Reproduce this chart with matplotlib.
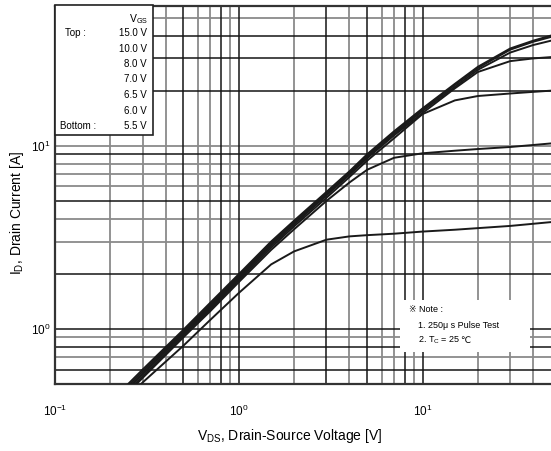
import matplotlib
matplotlib.use("Agg")
import matplotlib.pyplot as plt
from matplotlib.patches import Rectangle

plt.rcParams['font.family'] = ['Liberation Sans', 'DejaVu Sans', 'Noto Sans CJK JP']
plt.rcParams['mathtext.fontset'] = 'custom'
plt.rcParams['mathtext.rm'] = 'Liberation Sans'
plt.rcParams['mathtext.default'] = 'regular'

# Drain-source voltage sample points [V]
vds = [0.2, 0.3, 0.5, 0.7, 1.0, 1.5, 2.0, 3.0, 4.0, 5.0, 7.0, 10, 15, 20, 30, 40, 50]

# Drain current [A] for each gate voltage
id_15v0 = [0.40, 0.60, 0.99, 1.39, 1.99, 3.00, 3.90, 5.60, 7.25, 9.00, 12.0, 16.0, 21.8, 27.0, 34.0, 37.5, 40.0]
id_10v0 = [0.39, 0.585, 0.97, 1.36, 1.95, 2.95, 3.85, 5.50, 7.15, 8.85, 11.8, 15.8, 21.5, 26.6, 33.5, 37.0, 39.3]
id_8v0 = [0.38, 0.57, 0.95, 1.33, 1.91, 2.90, 3.78, 5.42, 7.05, 8.70, 11.6, 15.5, 21.0, 26.0, 32.3, 35.5, 37.5]
id_7v0 = [0.38, 0.565, 0.94, 1.31, 1.88, 2.85, 3.72, 5.35, 6.95, 8.55, 11.4, 15.1, 20.6, 25.3, 29.0, 30.0, 30.5]
id_6v5 = [0.37, 0.55, 0.92, 1.28, 1.84, 2.78, 3.63, 5.20, 6.75, 8.30, 11.0, 14.9, 17.7, 18.7, 19.3, 19.7, 20.0]
id_6v0 = [0.36, 0.54, 0.90, 1.25, 1.80, 2.70, 3.50, 5.00, 6.30, 7.40, 8.60, 9.10, 9.40, 9.60, 9.85, 10.1, 10.3]
id_5v5 = [0.34, 0.51, 0.81, 1.12, 1.57, 2.25, 2.65, 3.07, 3.20, 3.25, 3.31, 3.40, 3.48, 3.55, 3.65, 3.75, 3.83]

curves = [id_15v0, id_10v0, id_8v0, id_7v0, id_6v5, id_6v0, id_5v5]
vgs_labels = ["15.0 V", "10.0 V", "8.0 V", "7.0 V", "6.5 V", "6.0 V", "5.5 V"]

# Grid values, split into darker and lighter lines
x_dark = [0.5, 0.8, 1, 3, 5, 8, 10]
x_light = [0.2, 0.3, 0.4, 0.6, 0.7, 0.9, 2, 4, 6, 7, 9, 20, 30, 40]
y_dark = [0.6, 0.8, 1, 2, 5, 9, 20, 30, 40]
y_light = [0.7, 0.9, 3, 4, 6, 7, 8, 10, 50]

W, H = 551, 451
fig = plt.figure(figsize=(W / 100, H / 100), dpi=100)


def fx(x):
    return x / W


def fy(y):
    return 1 - y / H


ax = fig.add_axes([fx(55), fy(384), 1 - fx(55), fy(6) - fy(384)])
ax.set_xscale('log')
ax.set_yscale('log')
ax.set_xlim(0.1, 50)
ax.set_ylim(0.5, 58)

for v in x_light:
    ax.axvline(v, color='#8a8a8a', lw=1.3, zorder=1)
for v in x_dark:
    ax.axvline(v, color='#151515', lw=1.1, zorder=1.2)
for v in y_light:
    ax.axhline(v, color='#8a8a8a', lw=1.3, zorder=1)
for v in y_dark:
    ax.axhline(v, color='#151515', lw=1.1, zorder=1.2)

for cur in curves:
    ax.plot(vds, cur, color='#1a1a1a', lw=1.4, zorder=3)

ax.set_xticks([0.1, 1, 10])
ax.set_yticks([1, 10])
ax.minorticks_off()
ax.tick_params(length=0, labelsize=8.5)
ax.tick_params(axis='x', pad=14)
ax.tick_params(axis='y', pad=3)
for s in ['left', 'bottom', 'top']:
    ax.spines[s].set_linewidth(1.6)
    ax.spines[s].set_color('#333333')
ax.spines['right'].set_visible(False)

fig.text(fx(290), fy(436), "V$_{DS}$, Drain-Source Voltage [V]", ha='center', va='center', fontsize=10)
fig.text(fx(17), fy(213), "I$_{D}$, Drain Current [A]", ha='center', va='center', fontsize=10, rotation=90)

# Gate-voltage legend box
fig.patches.append(Rectangle((fx(55), fy(135)), fx(153) - fx(55), fy(5) - fy(135),
                             transform=fig.transFigure, facecolor='white', edgecolor='#222222',
                             lw=1.2, zorder=5))
fig.text(fx(129), fy(19), "V$_{GS}$", ha='left', va='center', fontsize=7.5, zorder=6)
fig.text(fx(65), fy(33), "Top :", ha='left', va='center', fontsize=7, zorder=6)
fig.text(fx(60), fy(126), "Bottom :", ha='left', va='center', fontsize=7, zorder=6)
for i, lab in enumerate(vgs_labels):
    fig.text(fx(147), fy(33 + i * 15.5), lab, ha='right', va='center', fontsize=7, zorder=6)

# Test-condition note
fig.patches.append(Rectangle((fx(400), fy(352)), fx(530) - fx(400), fy(300) - fy(352),
                             transform=fig.transFigure, facecolor='white', edgecolor='none', zorder=5))
fig.text(fx(409), fy(310), "※ Note :", ha='left', va='center', fontsize=6.5, zorder=6)
fig.text(fx(418), fy(325), "1. 250μ s Pulse Test", ha='left', va='center', fontsize=6.5, zorder=6)
tc = fig.text(fx(418), fy(343), "2. T$_{C}$ = 25", ha='left', va='baseline', fontsize=6.5, zorder=6)
fig.canvas.draw()
tc_end = tc.get_window_extent().x1
fig.text(tc_end / W, fy(343), "℃", ha='left', va='baseline', fontsize=6.5, zorder=6)

fig.savefig("out.png", dpi=100, facecolor='white')
